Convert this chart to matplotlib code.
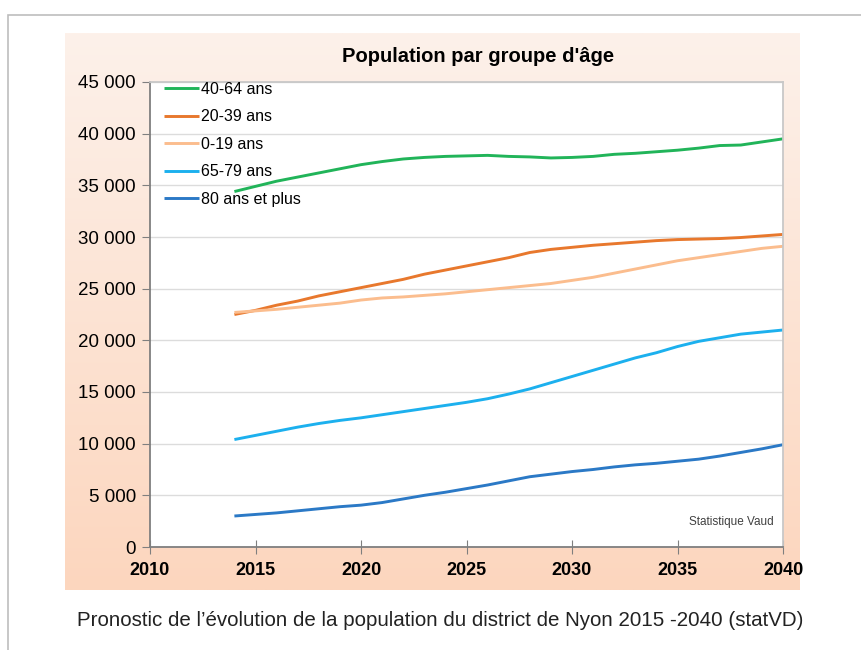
import matplotlib.pyplot as plt
import numpy as np
from matplotlib.ticker import FuncFormatter, MultipleLocator
from matplotlib.patches import Rectangle

plt.rcParams['font.family'] = ['Liberation Sans', 'DejaVu Sans']

# Population par groupe d'âge, district de Nyon (milliers)
annees = list(range(2014, 2041))
age_40_64 = [34.4, 34.9, 35.4, 35.8, 36.2, 36.6, 37.0, 37.3, 37.55, 37.7, 37.8, 37.85, 37.9, 37.8,
             37.75, 37.65, 37.7, 37.8, 38.0, 38.1, 38.25, 38.4, 38.6, 38.85, 38.9, 39.2, 39.5]
age_20_39 = [22.5, 22.9, 23.4, 23.8, 24.3, 24.7, 25.1, 25.5, 25.9, 26.4, 26.8, 27.2, 27.6, 28.0,
             28.5, 28.8, 29.0, 29.2, 29.35, 29.5, 29.65, 29.75, 29.8, 29.85, 29.95, 30.1, 30.25]
age_0_19 = [22.7, 22.85, 23.0, 23.2, 23.4, 23.6, 23.9, 24.1, 24.2, 24.35, 24.5, 24.7, 24.9, 25.1,
            25.3, 25.5, 25.8, 26.1, 26.5, 26.9, 27.3, 27.7, 28.0, 28.3, 28.6, 28.9, 29.1]
age_65_79 = [10.4, 10.8, 11.2, 11.6, 11.95, 12.25, 12.5, 12.8, 13.1, 13.4, 13.7, 14.0, 14.35, 14.8,
             15.3, 15.9, 16.5, 17.1, 17.7, 18.3, 18.8, 19.4, 19.9, 20.25, 20.6, 20.8, 21.0]
age_80_plus = [3.0, 3.15, 3.3, 3.5, 3.7, 3.9, 4.05, 4.3, 4.65, 5.0, 5.3, 5.65, 6.0, 6.4,
               6.8, 7.05, 7.3, 7.5, 7.75, 7.95, 8.1, 8.3, 8.5, 8.8, 9.15, 9.5, 9.9]

series = [
    ('40-64 ans', age_40_64, '#21b459'),
    ('20-39 ans', age_20_39, '#e8782d'),
    ('0-19 ans', age_0_19, '#fbbd8e'),
    ('65-79 ans', age_65_79, '#1cb0ee'),
    ('80 ans et plus', age_80_plus, '#2b79c6'),
]

fig = plt.figure(figsize=(8.61, 6.5), dpi=100)
W, H = 861, 650

# cadre extérieur
fig.patches.append(Rectangle((8 / W, -0.1), 1.0, (H - 15) / H + 0.1, transform=fig.transFigure,
                             facecolor='white', edgecolor='#bdbdbd', lw=1.2, zorder=0))

# fond dégradé pêche
bg = fig.add_axes([65 / W, (H - 590) / H, 735 / W, 557 / H], zorder=1)
top = np.array([253, 241, 234]) / 255
bot = np.array([252, 214, 190]) / 255
t = np.linspace(0, 1, 200)[:, None]
grad = top[None, :] * (1 - t) + bot[None, :] * t
bg.imshow(grad[:, None, :].repeat(2, axis=1), aspect='auto', extent=[0, 1, 0, 1])
bg.axis('off')

ax = fig.add_axes([150 / W, (H - 547) / H, 633 / W, 465 / H], zorder=2)
ax.set_facecolor('white')

for label, vals, col in series:
    ax.plot(annees, [v * 1000 for v in vals], color=col, lw=2.1, label=label, solid_capstyle='butt')

ax.set_xlim(2010, 2040)
ax.set_ylim(0, 45000)
ax.xaxis.set_major_locator(MultipleLocator(5))
ax.yaxis.set_major_locator(MultipleLocator(5000))
ax.yaxis.set_major_formatter(FuncFormatter(lambda v, p: f"{int(v):,}".replace(',', ' ')))
ax.grid(axis='y', color='#dcdcdc', lw=1)
ax.set_axisbelow(True)

for s in ['left', 'bottom']:
    ax.spines[s].set_color('#7f7f7f')
    ax.spines[s].set_linewidth(1.3)
for s in ['top', 'right']:
    ax.spines[s].set_color('#c8c8c8')
    ax.spines[s].set_linewidth(1.3)

ax.tick_params(axis='y', direction='out', length=6, color='#7f7f7f', labelsize=13.5, pad=4)
ax.tick_params(axis='x', direction='inout', length=10, color='#7f7f7f', labelsize=13, pad=6)
for lab in ax.get_xticklabels():
    lab.set_fontweight('bold')

ax.legend(loc='upper left', bbox_to_anchor=(0.022, 1.0), frameon=False, fontsize=11.5,
          handlelength=2.2, handletextpad=0.15, labelspacing=0.78, borderaxespad=0, borderpad=0)

ax.text(0.985, 0.04, 'Statistique Vaud', transform=ax.transAxes, ha='right', va='bottom',
        fontsize=8.5, color='#404040')

fig.text(478 / W, 1 - 57 / H, "Population par groupe d'âge", ha='center', va='center',
         fontsize=14.5, fontweight='bold', zorder=3)

fig.text(440 / W, 1 - 621 / H,
         "Pronostic de l\u2019évolution de la population du district de Nyon 2015 -2040 (statVD)",
         ha='center', va='center', fontsize=14.8, color='#222222', zorder=3)

fig.savefig('out.png', dpi=100)
